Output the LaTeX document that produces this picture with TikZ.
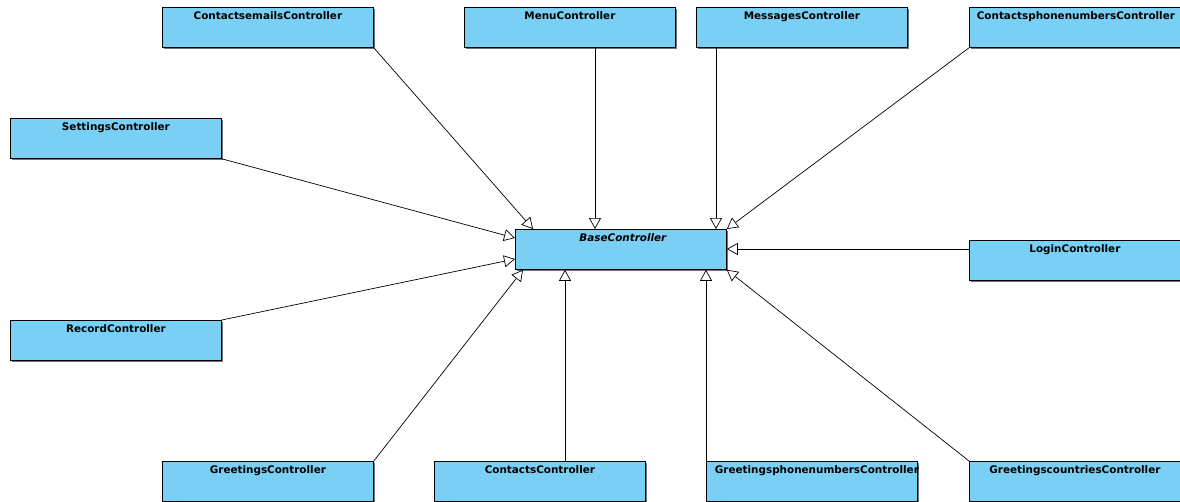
\documentclass[tikz,border=0pt]{standalone}
\usepackage{fontspec}
\setmainfont{DejaVu Sans}
\usetikzlibrary{arrows.meta,shadows,calc}
\definecolor{classfill}{RGB}{122,207,245}
\begin{document}
\begin{tikzpicture}[x=1pt,y=-1pt,
  classbox/.style={draw=black, line width=0.8pt, fill=classfill, minimum width=211pt,
    minimum height=40pt, anchor=north west, inner sep=0pt,
    drop shadow={shadow xshift=1.2pt, shadow yshift=-1.2pt, fill=black!55, opacity=1}},
  title/.style={anchor=north, inner sep=0pt, font=\fontsize{10.4}{12}\selectfont\bfseries},
  inherit/.style={draw=black, line width=0.7pt, -{Triangle[open, fill=white, length=11pt, width=12pt]}}]
\useasboundingbox (0,0) rectangle (1180,501);

% classes
\node[classbox] (ce) at (162,7) {};
\node[classbox] (menu) at (464,7) {};
\node[classbox] (msg) at (696,7) {};
\node[classbox] (cp) at (969,7) {};
\node[classbox] (set) at (10,118) {};
\node[classbox] (base) at (515,229) {};
\node[classbox] (login) at (969,240) {};
\node[classbox] (rec) at (10,320) {};
\node[classbox] (gr) at (162,461) {};
\node[classbox] (con) at (434,461) {};
\node[classbox] (gp) at (706,461) {};
\node[classbox] (gc) at (969,461) {};

% class names
\node[title] at ($(ce.north)+(0,4)$) {ContactsemailsController};
\node[title] at ($(menu.north)+(0,4)$) {MenuController};
\node[title] at ($(msg.north)+(0,4)$) {MessagesController};
\node[title] at ($(cp.north)+(1,4)$) {ContactsphonenumbersController};
\node[title] at ($(set.north)+(0,4)$) {SettingsController};
\node[title] at ($(base.north)+(2,4)$) {\itshape BaseController};
\node[title] at ($(login.north)+(0,4)$) {LoginController};
\node[title] at ($(rec.north)+(0,4)$) {RecordController};
\node[title] at ($(gr.north)+(0,4)$) {GreetingsController};
\node[title] at ($(con.north)+(0,4)$) {ContactsController};
\node[title] at ($(gp.north)+(5,4)$) {GreetingsphonenumbersController};
\node[title] at ($(gc.north)+(0,4)$) {GreetingscountriesController};

% inheritance
\draw[inherit] (ce.south east) -- ($(base.north west)+(18,0)$);
\draw[inherit] ($(menu.south west)+(131,0)$) -- ($(base.north west)+(80,0)$);
\draw[inherit] ($(msg.south west)+(20,0)$) -- ($(base.north west)+(201,0)$);
\draw[inherit] (cp.south west) -- (base.north east);
\draw[inherit] (set.south east) -- ($(base.north west)+(0,9)$);
\draw[inherit] ($(login.north west)+(0,9)$) -- ($(base.north east)+(0,20)$);
\draw[inherit] (rec.north east) -- ($(base.north west)+(0,30)$);
\draw[inherit] (gr.north east) -- ($(base.south west)+(8,0)$);
\draw[inherit] ($(con.north west)+(131,0)$) -- ($(base.south west)+(50,0)$);
\draw[inherit] (gp.north west) -- ($(base.south west)+(191,0)$);
\draw[inherit] (gc.north west) -- (base.south east);
\end{tikzpicture}
\end{document}
